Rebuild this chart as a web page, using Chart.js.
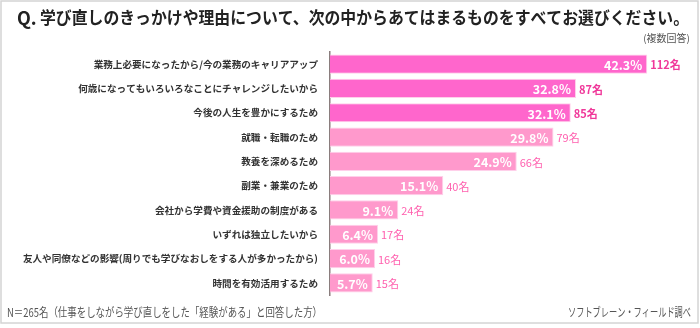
<!DOCTYPE html>
<html><head><meta charset="utf-8">
<script src="https://cdn.jsdelivr.net/npm/chart.js@4/dist/chart.umd.min.js"></script>
<style>html,body{margin:0;padding:0;background:#fff}#wrap{width:700px;height:328px;position:relative}</style>
</head><body><div id="wrap"><canvas id="c" width="700" height="328"></canvas></div>
<script>
const categories = [
  "業務上必要になったから/今の業務のキャリアアップ",
  "何歳になってもいろいろなことにチャレンジしたいから",
  "今後の人生を豊かにするため",
  "就職・転職のため",
  "教養を深めるため",
  "副業・兼業のため",
  "会社から学費や資金援助の制度がある",
  "いずれは独立したいから",
  "友人や同僚などの影響(周りでも学びなおしをする人が多かったから)",
  "時間を有効活用するため"
];
const percents = [42.3, 32.8, 32.1, 29.8, 24.9, 15.1, 9.1, 6.4, 6.0, 5.7];
const counts = [112, 87, 85, 79, 66, 40, 24, 17, 16, 15];
const highlightTop = 3;
const titleText = "学び直しのきっかけや理由について、次の中からあてはまるものをすべてお選びください。";
const noteText = "(複数回答)";
const footLeft = "N＝265名（仕事をしながら学び直しをした「経験がある」と回答した方）";
const footRight = "ソフトブレーン・フィールド調べ";

const DARK = "#ff66cc", LIGHT = "#ff99cc";
const JP = '"Noto Sans CJK JP", "Noto Sans", sans-serif';

const labelPlugin = {
  id: 'labels',
  afterDatasetsDraw(chart) {
    const ctx = chart.ctx;
    const meta = chart.getDatasetMeta(0);
    ctx.save();
    meta.data.forEach((bar, i) => {
      const y = bar.y;
      ctx.textBaseline = 'middle';
      ctx.font = 'bold 12.5px ' + JP;
      ctx.fillStyle = '#ffffff';
      ctx.textAlign = 'right';
      ctx.fillText(percents[i].toFixed(1) + '%', bar.x - 5, y + 1);
      ctx.textAlign = 'left';
      if (i < highlightTop) {
        ctx.font = 'bold 11px ' + JP;
        ctx.fillStyle = '#f0389a';
      } else {
        ctx.font = '11px ' + JP;
        ctx.fillStyle = '#ff5fae';
      }
      ctx.fillText(counts[i] + '名', bar.x + 3, y + 1);
    });
    ctx.restore();
  },
  afterDraw(chart) {
    const ctx = chart.ctx;
    ctx.save();
    ctx.strokeStyle = '#d4d4d4';
    ctx.lineWidth = 1.5;
    ctx.strokeRect(1, 1, 697, 322);
    ctx.textBaseline = 'middle';
    ctx.fillStyle = '#222';
    ctx.font = 'bold 18px ' + JP;
    ctx.textAlign = 'left';
    ctx.fillText('Q.', 17, 18);
    ctx.font = 'bold 17px ' + JP;
    ctx.fillText(titleText, 40, 18, 649);
    ctx.fillStyle = '#555';
    ctx.font = '10px ' + JP;
    ctx.textAlign = 'right';
    ctx.fillText(noteText, 690, 38);
    ctx.font = '12px ' + JP;
    ctx.textAlign = 'left';
    ctx.fillText(footLeft, 7, 312, 315);
    ctx.textAlign = 'right';
    ctx.fillText(footRight, 691, 312, 123);
    ctx.restore();
  }
};

new Chart(document.getElementById('c'), {
  type: 'bar',
  data: {
    labels: categories,
    datasets: [{
      data: percents,
      backgroundColor: percents.map((_, i) => i < highlightTop ? DARK : LIGHT),
      borderColor: '#ffd0ea',
      borderWidth: 1,
      borderSkipped: 'start',
      barPercentage: 0.85,
      categoryPercentage: 0.93
    }]
  },
  options: {
    indexAxis: 'y',
    responsive: false,
    animation: false,
    devicePixelRatio: 1,
    layout: { padding: { top: 52, bottom: 33, right: 10, left: 0 } },
    plugins: { legend: { display: false }, tooltip: { enabled: false }, title: { display: false } },
    scales: {
      x: { display: false, min: 0, max: 48 },
      y: {
        afterFit(scale) { scale.width = 330; },
        grid: { display: false, drawTicks: false },
        border: { display: true, color: '#8a7d7d', width: 1.5 },
        ticks: {
          padding: 12,
          color: '#333',
          font: { family: JP, size: 9.6, weight: 'bold' },
          autoSkip: false
        }
      }
    }
  },
  plugins: [labelPlugin]
});
</script></body></html>
